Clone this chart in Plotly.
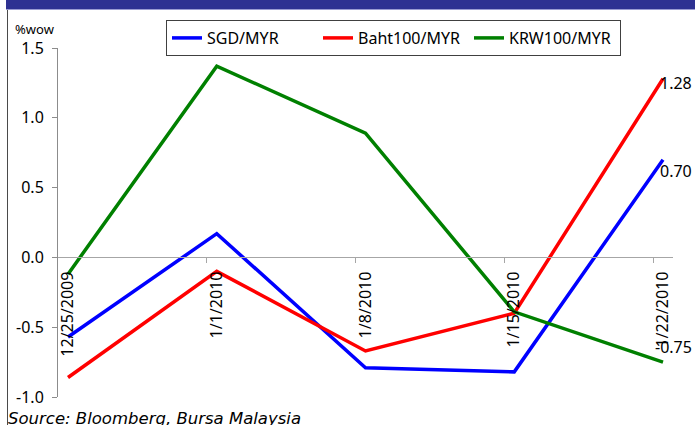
import plotly.graph_objects as go

# Weekly % change of the ringgit crosses
dates = ["12/25/2009", "1/1/2010", "1/8/2010", "1/15/2010", "1/22/2010"]
sgd_myr = [-0.57, 0.17, -0.79, -0.82, 0.70]
baht100_myr = [-0.86, -0.10, -0.67, -0.40, 1.28]
krw100_myr = [-0.12, 1.37, 0.89, -0.39, -0.75]
y_ticks = [-1.0, -0.5, 0.0, 0.5, 1.0, 1.5]

series = [
    ("SGD/MYR", sgd_myr, "#0000FF"),
    ("Baht100/MYR", baht100_myr, "#FF0000"),
    ("KRW100/MYR", krw100_myr, "#008000"),
]
# vertical nudge (px) of the end-of-line value labels
end_label_shift = {"SGD/MYR": -11, "Baht100/MYR": -4, "KRW100/MYR": 15}

W, H = 695, 425
L, R, T, B = 58, 22, 48, 28
PW, PH = W - L - R, H - T - B
FONT = "Noto Sans"

Y_MIN, Y_MAX = y_ticks[0], y_ticks[-1]
x_range = [-0.0672, len(dates) - 1 + 0.0672]
zero_pos = (0 - Y_MIN) / (Y_MAX - Y_MIN)


def px_x(p):
    return (p - L) / PW


def px_y(p):
    return (H - B - p) / PH


idx = list(range(len(dates)))
fig = go.Figure()
for name, vals, color in series:
    fig.add_trace(go.Scatter(
        x=idx, y=vals, name=name, mode="lines",
        line=dict(color=color, width=3.5),
        xaxis="x", yaxis="y",
    ))

# value labels at the latest week, right-aligned to the chart edge
annotations = []
for name, vals, color in series:
    annotations.append(dict(
        x=px_x(694), y=vals[-1], xref="paper", yref="y",
        text=f"{vals[-1]:.2f}", showarrow=False,
        xanchor="right", yanchor="middle",
        yshift=end_label_shift[name],
        font=dict(family=FONT, size=16, color="black"),
    ))

annotations.append(dict(
    x=px_x(13), y=px_y(18), xref="paper", yref="paper",
    text="%wow", showarrow=False, xanchor="left", yanchor="top",
    font=dict(family=FONT, size=13, color="black"),
))
annotations.append(dict(
    x=px_x(6), y=px_y(407), xref="paper", yref="paper",
    text="<i>Source: Bloomberg, Bursa Malaysia</i>", showarrow=False,
    xanchor="left", yanchor="top",
    font=dict(family="DejaVu Sans", size=16.5, color="black"),
))

shapes = [
    # title band
    dict(type="rect", xref="paper", yref="paper",
         x0=px_x(6), x1=px_x(W + 2), y0=px_y(9), y1=px_y(-2),
         fillcolor="#2E3192", line=dict(width=0), layer="above"),
    dict(type="line", xref="paper", yref="paper",
         x0=px_x(6), x1=px_x(W + 2), y0=px_y(9.5), y1=px_y(9.5),
         line=dict(color="#9A9BD2", width=1)),
    # left frame
    dict(type="line", xref="paper", yref="paper",
         x0=px_x(7.5), x1=px_x(7.5), y0=px_y(10), y1=px_y(H + 2),
         line=dict(color="#4A4A4A", width=1)),
]

boundary_ticks = [i - 0.0672 for i in idx[1:]]

fig.update_layout(
    width=W, height=H,
    margin=dict(l=L, r=R, t=T, b=B),
    paper_bgcolor="white", plot_bgcolor="white",
    font=dict(family=FONT, size=16, color="black"),
    showlegend=True,
    legend=dict(
        orientation="h", x=px_x(166), y=px_y(20),
        xanchor="left", yanchor="top",
        bordercolor="#404040", borderwidth=1, bgcolor="white",
        font=dict(family=FONT, size=16, color="black"),
        itemwidth=30, entrywidth=106, entrywidthmode="pixels",
    ),
    xaxis=dict(
        range=x_range, anchor="free", position=zero_pos,
        showline=True, linecolor="#A6A6A6", linewidth=1,
        tickmode="array", tickvals=boundary_ticks,
        ticks="outside", ticklen=5, tickcolor="#A6A6A6",
        showticklabels=False, showgrid=False, zeroline=False,
        fixedrange=True,
    ),
    xaxis2=dict(
        range=x_range, overlaying="x", anchor="free", position=zero_pos,
        side="bottom", showline=False, showgrid=False, zeroline=False,
        tickmode="array", tickvals=idx, ticktext=dates,
        ticks="", tickangle=-90, ticklabelstandoff=10,
        tickfont=dict(family=FONT, size=16, color="black"),
    ),
    yaxis=dict(
        range=[Y_MIN, Y_MAX], domain=[0, 1],
        tickmode="array", tickvals=y_ticks,
        ticktext=[f"{v:.1f}" for v in y_ticks],
        showline=True, linecolor="#8C8C8C", linewidth=1,
        ticks="outside", ticklen=5, tickcolor="#8C8C8C",
        ticklabelstandoff=5,
        showgrid=False, zeroline=False,
        tickfont=dict(family=FONT, size=16, color="black"),
    ),
    annotations=annotations,
    shapes=shapes,
)

# empty trace so the date-label axis is drawn
fig.add_trace(go.Scatter(x=idx, y=[None] * len(idx), xaxis="x2", yaxis="y",
                         showlegend=False, hoverinfo="skip"))

fig.write_html("out.html")
